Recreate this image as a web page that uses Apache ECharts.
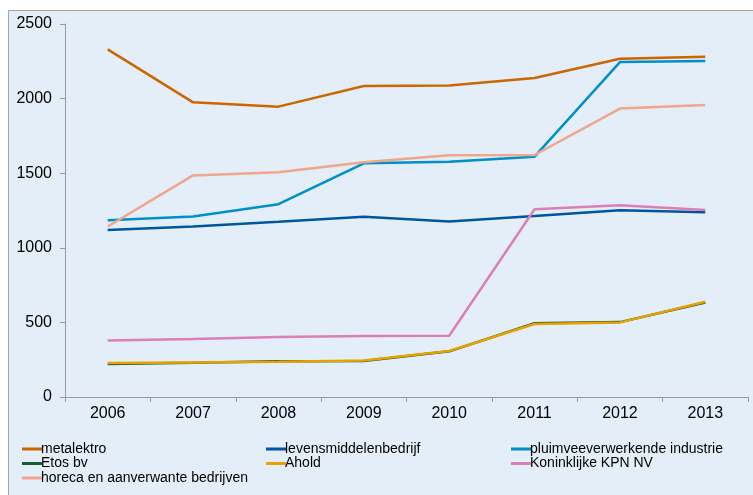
<!DOCTYPE html>
<html>
<head>
<meta charset="utf-8">
<script src="https://cdn.jsdelivr.net/npm/echarts@6/dist/echarts.min.js"></script>
<style>
html,body{margin:0;padding:0;background:#fff;}
#c{width:753px;height:495px;}
</style>
</head>
<body>
<div id="c"></div>
<script>
var categories = ['2006','2007','2008','2009','2010','2011','2012','2013'];
var seriesNames = ['metalektro','levensmiddelenbedrijf','pluimveeverwerkende industrie','Etos bv','Ahold','Koninklijke KPN NV','horeca en aanverwante bedrijven'];
var metalektro = [2330, 1975, 1946, 2085, 2087, 2138, 2267, 2281];
var levensmiddelen = [1119, 1143, 1175, 1208, 1177, 1213, 1251, 1238];
var pluimvee = [1185, 1210, 1292, 1566, 1577, 1611, 2245, 2252];
var etos = [222, 230, 240, 242, 306, 494, 502, 633];
var ahold = [228, 232, 237, 244, 308, 489, 500, 639];
var kpn = [379, 389, 402, 409, 411, 1258, 1285, 1253];
var horeca = [1143, 1485, 1507, 1573, 1620, 1622, 1933, 1957];
var yTicks = [0, 500, 1000, 1500, 2000, 2500];

var colors = ['#cc6600','#00569c','#0090c8','#1e5a32','#e8a200','#dc7fb6','#f0a68a'];
var values = [metalektro, levensmiddelen, pluimvee, etos, ahold, kpn, horeca];

var chart = echarts.init(document.getElementById('c'));
var series = seriesNames.map(function(n, i){
  return {
    name: n, type: 'line', data: values[i], symbol: 'none',
    lineStyle: {color: colors[i], width: 2.5},
    itemStyle: {color: colors[i]},
    z: 2 + i
  };
});
function leg(left, names){
  return {
    orient: 'vertical', left: left, top: 437,
    itemWidth: 20, itemHeight: 3, itemGap: 0.5, icon: 'rect',
    data: names,
    selectedMode: false,
    textStyle: {fontSize: 14, fontFamily: 'Liberation Sans, Arial, sans-serif', color: '#000', lineHeight: 14, padding: [0,0,0,-6]}
  };
}
chart.setOption({
  animation: false,
  backgroundColor: '#fff',
  color: colors,
  graphic: [{
    type: 'rect', shape: {x: 8.5, y: 10.5, width: 760, height: 500},
    style: {fill: '#e4eef8', stroke: '#a6a6a6', lineWidth: 1}, z: -10, silent: true
  }],
  grid: {left: 65, right: 5, top: 24, bottom: 98, containLabel: false},
  legend: [
    leg(17, [seriesNames[0], seriesNames[3], seriesNames[6]]),
    leg(261, [seriesNames[1], seriesNames[4]]),
    leg(506, [seriesNames[2], seriesNames[5]])
  ],
  xAxis: {
    type: 'category', data: categories, boundaryGap: true,
    axisLine: {lineStyle: {color: '#999999', width: 1}},
    axisTick: {show: true, length: 5, lineStyle: {color: '#999999'}},
    axisLabel: {fontSize: 16, color: '#000', fontFamily: 'Liberation Sans, Arial, sans-serif', margin: 9},
    splitLine: {show: false}
  },
  yAxis: {
    type: 'value', min: yTicks[0], max: yTicks[yTicks.length-1], interval: 500,
    axisLine: {show: true, lineStyle: {color: '#999999', width: 1}},
    axisTick: {show: true, length: 5, lineStyle: {color: '#999999'}},
    axisLabel: {fontSize: 16, color: '#000', fontFamily: 'Liberation Sans, Arial, sans-serif', margin: 13,
      formatter: function(v){ return String(v); }},
    splitLine: {show: false}
  },
  series: series
});
</script>
</body>
</html>
